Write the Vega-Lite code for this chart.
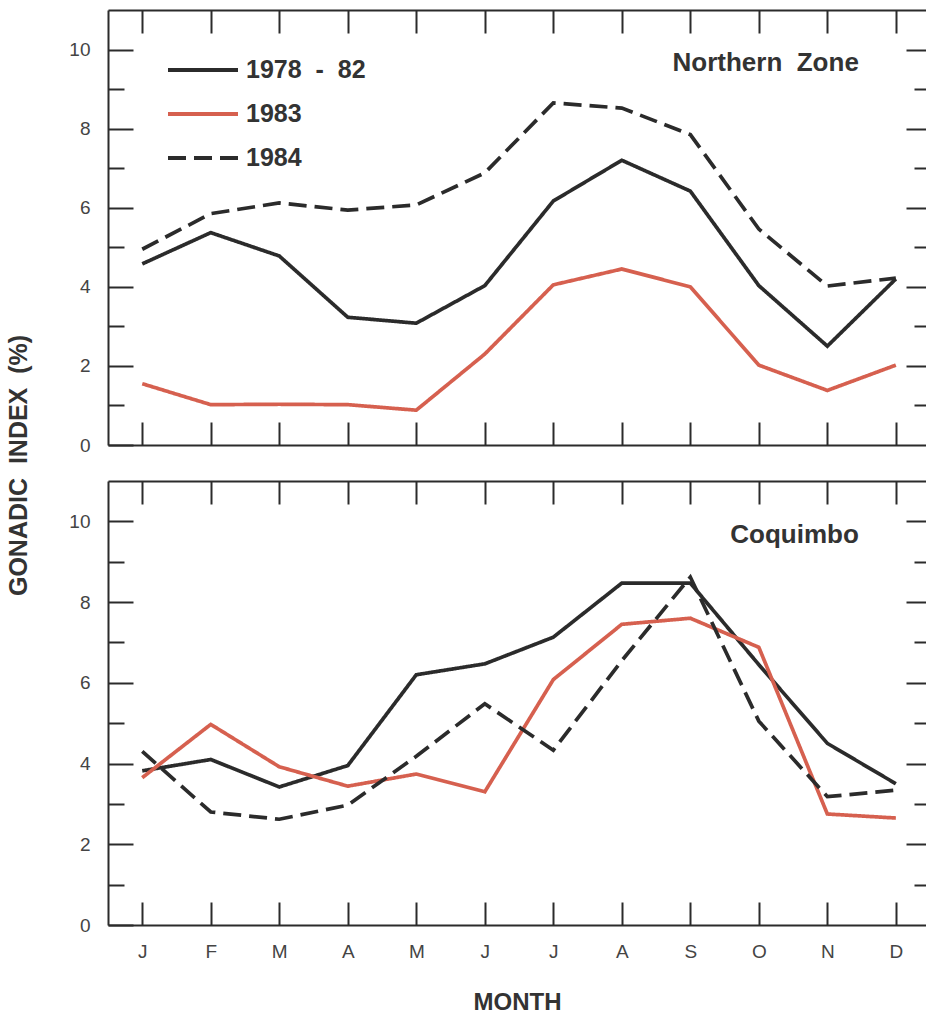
{
  "$schema": "https://vega.github.io/schema/vega-lite/v6.json",
  "autosize": {"type": "pad"},
  "padding": {"left": 6, "top": 9, "right": 0, "bottom": 0},
  "title": {"text": "GONADIC\u00a0\u00a0INDEX\u00a0\u00a0(%)", "orient": "left", "anchor": "middle", "font": "Liberation Sans", "fontSize": 25, "fontWeight": "bold", "color": "#333333", "offset": 37, "dx": 46},
  "datasets": {
    "northern": [
      {"month": 1, "series": "1978 - 82", "value": 4.58},
      {"month": 2, "series": "1978 - 82", "value": 5.37},
      {"month": 3, "series": "1978 - 82", "value": 4.78},
      {"month": 4, "series": "1978 - 82", "value": 3.23},
      {"month": 5, "series": "1978 - 82", "value": 3.08},
      {"month": 6, "series": "1978 - 82", "value": 4.03},
      {"month": 7, "series": "1978 - 82", "value": 6.17},
      {"month": 8, "series": "1978 - 82", "value": 7.2},
      {"month": 9, "series": "1978 - 82", "value": 6.42},
      {"month": 10, "series": "1978 - 82", "value": 4.03},
      {"month": 11, "series": "1978 - 82", "value": 2.5},
      {"month": 12, "series": "1978 - 82", "value": 4.2},
      {"month": 1, "series": "1983", "value": 1.55},
      {"month": 2, "series": "1983", "value": 1.02},
      {"month": 3, "series": "1983", "value": 1.03},
      {"month": 4, "series": "1983", "value": 1.02},
      {"month": 5, "series": "1983", "value": 0.88},
      {"month": 6, "series": "1983", "value": 2.3},
      {"month": 7, "series": "1983", "value": 4.05},
      {"month": 8, "series": "1983", "value": 4.45},
      {"month": 9, "series": "1983", "value": 4.0},
      {"month": 10, "series": "1983", "value": 2.02},
      {"month": 11, "series": "1983", "value": 1.38},
      {"month": 12, "series": "1983", "value": 2.02},
      {"month": 1, "series": "1984", "value": 4.95},
      {"month": 2, "series": "1984", "value": 5.85},
      {"month": 3, "series": "1984", "value": 6.12},
      {"month": 4, "series": "1984", "value": 5.94},
      {"month": 5, "series": "1984", "value": 6.07},
      {"month": 6, "series": "1984", "value": 6.88},
      {"month": 7, "series": "1984", "value": 8.65},
      {"month": 8, "series": "1984", "value": 8.52},
      {"month": 9, "series": "1984", "value": 7.85},
      {"month": 10, "series": "1984", "value": 5.46},
      {"month": 11, "series": "1984", "value": 4.02},
      {"month": 12, "series": "1984", "value": 4.22}
    ],
    "coquimbo": [
      {"month": 1, "series": "1978 - 82", "value": 3.82},
      {"month": 2, "series": "1978 - 82", "value": 4.1},
      {"month": 3, "series": "1978 - 82", "value": 3.42},
      {"month": 4, "series": "1978 - 82", "value": 3.95},
      {"month": 5, "series": "1978 - 82", "value": 6.2},
      {"month": 6, "series": "1978 - 82", "value": 6.47},
      {"month": 7, "series": "1978 - 82", "value": 7.13},
      {"month": 8, "series": "1978 - 82", "value": 8.47},
      {"month": 9, "series": "1978 - 82", "value": 8.47},
      {"month": 10, "series": "1978 - 82", "value": 6.45},
      {"month": 11, "series": "1978 - 82", "value": 4.5},
      {"month": 12, "series": "1978 - 82", "value": 3.5},
      {"month": 1, "series": "1983", "value": 3.65},
      {"month": 2, "series": "1983", "value": 4.97},
      {"month": 3, "series": "1983", "value": 3.92},
      {"month": 4, "series": "1983", "value": 3.44},
      {"month": 5, "series": "1983", "value": 3.74},
      {"month": 6, "series": "1983", "value": 3.3},
      {"month": 7, "series": "1983", "value": 6.08},
      {"month": 8, "series": "1983", "value": 7.45},
      {"month": 9, "series": "1983", "value": 7.6},
      {"month": 10, "series": "1983", "value": 6.88},
      {"month": 11, "series": "1983", "value": 2.75},
      {"month": 12, "series": "1983", "value": 2.65},
      {"month": 1, "series": "1984", "value": 4.3},
      {"month": 2, "series": "1984", "value": 2.8},
      {"month": 3, "series": "1984", "value": 2.62},
      {"month": 4, "series": "1984", "value": 2.97},
      {"month": 5, "series": "1984", "value": 4.18},
      {"month": 6, "series": "1984", "value": 5.48},
      {"month": 7, "series": "1984", "value": 4.33},
      {"month": 8, "series": "1984", "value": 6.55},
      {"month": 9, "series": "1984", "value": 8.62},
      {"month": 10, "series": "1984", "value": 5.05},
      {"month": 11, "series": "1984", "value": 3.18},
      {"month": 12, "series": "1984", "value": 3.34}
    ]
  },
  "spacing": 25,
  "resolve": {"legend": {"color": "independent", "strokeDash": "independent"}},
  "vconcat": [
    {
      "width": 818,
      "height": 435,
      "resolve": {"axis": {"x": "independent", "y": "independent"}},
      "layer": [
        {
          "data": {"name": "northern"},
          "mark": {"type": "line", "strokeWidth": 3.7},
          "encoding": {
            "x": {"field": "month", "type": "quantitative", "scale": {"domain": [0.5, 12.44], "nice": false, "zero": false},
              "axis": {"orient": "bottom", "values": [1,2,3,4,5,6,7,8,9,10,11,12], "labels": false, "tickSize": -23, "title": null}},
            "y": {"field": "value", "type": "quantitative", "scale": {"domain": [0, 11], "nice": false},
              "axis": {"orient": "left", "values": [0,1,2,3,4,5,6,7,8,9,10], "labelExpr": "datum.value % 2 ? '' : datum.label", "tickSize": {"condition": {"test": "datum.value % 2 == 1", "value": -16}, "value": -25}, "labelPadding": 43, "title": null}},
            "color": {"field": "series", "type": "nominal", "scale": {"domain": ["1978 - 82", "1983", "1984"], "range": ["#2b2b2b", "#d6604f", "#2b2b2b"]},
              "legend": {"title": null, "orient": "none", "legendX": 58, "legendY": 50, "symbolType": "stroke", "symbolSize": 4900, "symbolStrokeWidth": 4, "labelFontSize": 25, "labelFontWeight": "bold", "labelColor": "#333333", "labelOffset": 6, "clipHeight": 20, "rowPadding": 19, "padding": 0, "labelExpr": "replace(datum.label, ' - ', '\u00a0\u00a0-\u00a0\u00a0')"}},
            "strokeDash": {"field": "series", "type": "nominal", "scale": {"domain": ["1978 - 82", "1983", "1984"], "range": [[1, 0], [1, 0], [18, 8]]},
              "legend": {"title": null, "orient": "none", "legendX": 58, "legendY": 50, "symbolType": "stroke", "symbolSize": 4900, "symbolStrokeWidth": 4, "labelFontSize": 25, "labelFontWeight": "bold", "labelColor": "#333333", "labelOffset": 6, "clipHeight": 20, "rowPadding": 19, "padding": 0, "labelExpr": "replace(datum.label, ' - ', '\u00a0\u00a0-\u00a0\u00a0')"}}
          }
        },
        {
          "data": {"values": [{}]},
          "mark": {"type": "text", "align": "right", "baseline": "middle", "fontSize": 26, "fontWeight": "bold", "color": "#333333"},
          "encoding": {
            "x": {"datum": 11.46, "type": "quantitative",
              "axis": {"orient": "top", "values": [1,2,3,4,5,6,7,8,9,10,11,12], "labels": false, "tickSize": -23, "title": null}},
            "y": {"datum": 9.65, "type": "quantitative",
              "axis": {"orient": "right", "values": [1,2,3,4,5,6,7,8,9,10], "labels": false, "domain": false, "tickSize": {"condition": {"test": "datum.value % 2 == 1", "value": -12}, "value": -20}, "title": null}},
            "text": {"value": "Northern\u00a0\u00a0Zone"}
          }
        }
      ]
    },
    {
      "width": 818,
      "height": 444,
      "resolve": {"axis": {"x": "independent", "y": "independent"}},
      "layer": [
        {
          "data": {"name": "coquimbo"},
          "mark": {"type": "line", "strokeWidth": 3.7},
          "encoding": {
            "x": {"field": "month", "type": "quantitative", "scale": {"domain": [0.5, 12.44], "nice": false, "zero": false},
              "axis": {"orient": "bottom", "values": [1,2,3,4,5,6,7,8,9,10,11,12], "labelExpr": "['J','F','M','A','M','J','J','A','S','O','N','D'][datum.value - 1]", "tickSize": -23, "labelPadding": 40, "labelFontSize": 19, "title": "MONTH", "titleFontSize": 24, "titleFontWeight": "bold", "titleColor": "#333333", "titlePadding": 29}},
            "y": {"field": "value", "type": "quantitative", "scale": {"domain": [0, 11], "nice": false},
              "axis": {"orient": "left", "values": [0,1,2,3,4,5,6,7,8,9,10], "labelExpr": "datum.value % 2 ? '' : datum.label", "tickSize": {"condition": {"test": "datum.value % 2 == 1", "value": -16}, "value": -25}, "labelPadding": 43, "title": null}},
            "color": {"field": "series", "type": "nominal", "scale": {"domain": ["1978 - 82", "1983", "1984"], "range": ["#2b2b2b", "#d6604f", "#2b2b2b"]}, "legend": null},
            "strokeDash": {"field": "series", "type": "nominal", "scale": {"domain": ["1978 - 82", "1983", "1984"], "range": [[1, 0], [1, 0], [18, 8]]}, "legend": null}
          }
        },
        {
          "data": {"values": [{}]},
          "mark": {"type": "text", "align": "right", "baseline": "middle", "fontSize": 26, "fontWeight": "bold", "color": "#333333"},
          "encoding": {
            "x": {"datum": 11.46, "type": "quantitative",
              "axis": {"orient": "top", "values": [1,2,3,4,5,6,7,8,9,10,11,12], "labels": false, "tickSize": -23, "title": null}},
            "y": {"datum": 9.65, "type": "quantitative",
              "axis": {"orient": "right", "values": [1,2,3,4,5,6,7,8,9,10], "labels": false, "domain": false, "tickSize": {"condition": {"test": "datum.value % 2 == 1", "value": -12}, "value": -20}, "title": null}},
            "text": {"value": "Coquimbo"}
          }
        }
      ]
    }
  ],
  "config": {
    "font": "Liberation Sans",
    "view": {"stroke": null},
    "axis": {"grid": false, "domainColor": "#2b2b2b", "domainWidth": 2, "tickColor": "#2b2b2b", "tickWidth": 2, "labelColor": "#444444", "labelFontSize": 19, "labelFont": "Liberation Sans"},
    "text": {"font": "Liberation Sans"}
  }
}
